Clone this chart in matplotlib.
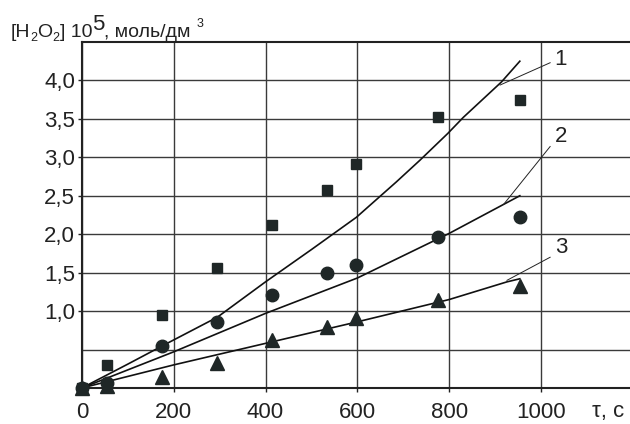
import numpy as np
import matplotlib.pyplot as plt

plt.rcParams['font.family'] = ['Liberation Sans', 'DejaVu Sans']

# experimental points
t_pts = [0, 55, 175, 295, 414, 533, 597, 776, 954]
sq_y = [0.0, 0.30, 0.95, 1.56, 2.12, 2.58, 2.91, 3.52, 3.75]
ci_y = [0.0, 0.06, 0.55, 0.86, 1.21, 1.49, 1.60, 1.96, 2.23]
tr_y = [0.0, 0.03, 0.14, 0.32, 0.62, 0.79, 0.91, 1.14, 1.32]

# calculated curves
t1 = [0, 100, 176, 295, 400, 500, 598, 685, 736, 797, 831, 914, 954]
c1 = [0.0, 0.31, 0.55, 0.92, 1.38, 1.80, 2.22, 2.68, 2.96, 3.31, 3.52, 3.98, 4.25]
t2 = [0, 200, 400, 600, 800, 954]
c2 = [0.0, 0.47, 0.97, 1.43, 2.01, 2.50]
t3 = [0, 200, 400, 600, 800, 926, 954]
c3 = [0.0, 0.30, 0.58, 0.86, 1.15, 1.38, 1.42]

xticks = [0, 200, 400, 600, 800, 1000]
yticks = [1.0, 1.5, 2.0, 2.5, 3.0, 3.5, 4.0]
ytick_labels = ['1,0', '1,5', '2,0', '2,5', '3,0', '3,5', '4,0']

dark = '#1f2727'
ink = '#222222'

fig = plt.figure(figsize=(6.3, 4.24), dpi=100)
ax = fig.add_axes([0.130, 0.085, 0.870, 0.816])

ax.set_xlim(0, 1194)
ax.set_ylim(0, 4.5)

# grid
for x in xticks:
    ax.axvline(x, color='#3a3a3a', lw=1.0, zorder=1)
for y in np.arange(0.5, 4.01, 0.5):
    ax.axhline(y, color='#3a3a3a', lw=1.0, zorder=1)

ax.plot(t1, c1, color='#111111', lw=1.2, zorder=3)
ax.plot(t2, c2, color='#111111', lw=1.2, zorder=3)
ax.plot(t3, c3, color='#111111', lw=1.2, zorder=3)

ax.plot(t_pts, sq_y, 's', color=dark, ms=6.5, zorder=4, clip_on=False)
ax.plot(t_pts, ci_y, 'o', color=dark, ms=9, zorder=4, clip_on=False)
ax.plot(t_pts, tr_y, '^', color=dark, ms=10, zorder=4, clip_on=False)

# curve labels with leaders
labels = [('1', (911, 3.94), (1020, 4.23), (1030, 4.27)),
          ('2', (919, 2.39), (1020, 3.14), (1030, 3.27)),
          ('3', (926, 1.40), (1020, 1.70), (1030, 1.83))]
for txt, p0, p1, pt in labels:
    ax.plot([p0[0], p1[0]], [p0[1], p1[1]], color=ink, lw=0.7, zorder=3)
    ax.text(pt[0], pt[1], txt, fontsize=16, ha='left', va='center', color=ink)

ax.spines['right'].set_visible(False)
for s in ['left', 'bottom', 'top']:
    ax.spines[s].set_linewidth(1.5)
    ax.spines[s].set_color(ink)

ax.set_xticks(xticks)
ax.set_yticks(yticks)
ax.set_yticklabels(ytick_labels)
ax.tick_params(direction='out', length=3, width=1, colors=ink, labelsize=16)
ax.tick_params(axis='x', pad=7)
ax.tick_params(axis='y', pad=2)

fig.text(608 / 630, 1 - 412 / 424, 'τ, с', fontsize=16, ha='center', va='center',
         color=ink)

# y-axis title, built piece by piece: (text, size, baseline shift px)
title_parts = [('[H', 14, 0), ('2', 9, -4), ('O', 14, 0), ('2', 9, -4),
               ('] 10', 14, 0), ('5', 16, 7), (', моль/дм ', 14, 0), ('3', 9, 10)]
renderer = fig.canvas.get_renderer()
x_px = 11
base_px = 37
for s, size, shift in title_parts:
    t = fig.text(x_px / 630, 1 - (base_px - shift) / 424, s, fontsize=size,
                 ha='left', va='baseline', color=ink)
    x_px += t.get_window_extent(renderer).width

fig.savefig('out.png', dpi=100)
